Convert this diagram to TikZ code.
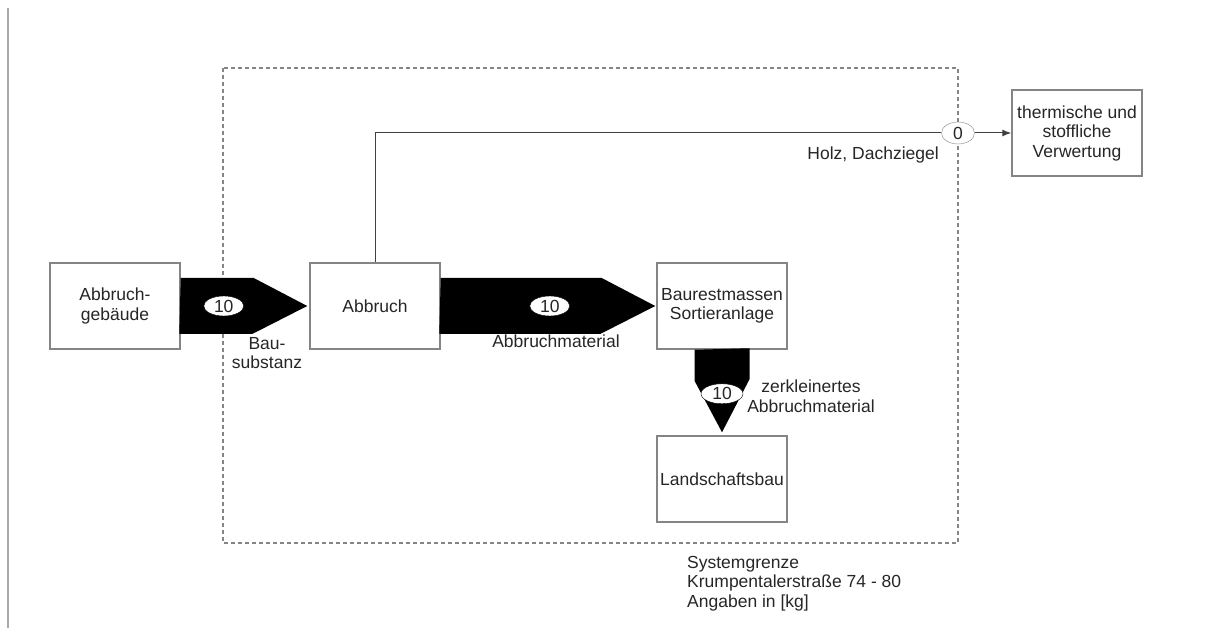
\documentclass[tikz,border=0pt]{standalone}
\usepackage{fontspec}
\setmainfont{Liberation Sans}
\usepackage{tikz}
\usetikzlibrary{arrows.meta, positioning, shapes.geometric, calc}
\definecolor{boxGrey}{HTML}{858585}
\definecolor{textGrey}{HTML}{262626}

\begin{document}
\begin{tikzpicture}[
  x=1pt, y=-1pt,
  every node/.style={text=textGrey, font=\fontsize{17.5}{19.5}\selectfont},
  box/.style={draw=boxGrey, line width=1.5pt, fill=white, align=center, minimum width=130pt, minimum height=86pt, inner sep=2pt},
  num/.style={ellipse, draw=black, fill=white, inner sep=0pt, minimum width=40pt, minimum height=20pt},
  lbl/.style={align=center, inner sep=0pt},
  flow/.style={fill=black},
  arr/.style={draw=black!75, line width=1pt},
  grenze/.style={draw=boxGrey, line width=1.3pt, dash pattern=on 4pt off 3pt}
]
\useasboundingbox (0,0) rectangle (1213,628);
\draw[boxGrey!70, line width=1.5pt] (8,8) -- (8,628);

% Systemgrenze
\draw[grenze] (223,68) rectangle (958,543);

\node[box] (geb) at (115,306) {Abbruch-\\geb\"aude};
\node[box, right=128.5pt of geb] (abbruch) {Abbruch};
\node[box, right=215.5pt of abbruch] (sort) {Baurestmassen\\Sortieranlage};
\node[box, below=85.5pt of sort] (land) {Landschaftsbau};
\node[box] (verwertung) at (1077,133) {thermische und\\stoffliche\\Verwertung};

% Massenstroeme
\fill[flow] ($(geb.east)+(0,-28)$) -- ++(73,0) -- ($(abbruch.west)+(-2,0)$) -- ++(-55,28) -- ++(-73,0) -- cycle;
\fill[flow] ($(abbruch.east)+(0,-28)$) -- ++(161,0) -- ($(sort.west)+(-1,0)$) -- ++(-55,28) -- ++(-161,0) -- cycle;
\fill[flow] ($(sort.south)+(-27.5,0)$) -- ++(0,31) -- ($(land.north)+(0,-3)$) -- ++(27.5,-53) -- ++(0,-31) -- cycle;

\node[num] (m1) at ($(geb.east)+(43,0)$) {10};
\node[num] (m2) at ($(abbruch.east)+(109,0)$) {10};
\node[num, minimum width=42pt] (m3) at ($(sort.south)+(0,44)$) {10};
\node[num, draw=boxGrey, minimum width=33pt, minimum height=22pt] (m0) at (958,133) {0};

\draw[arr] (abbruch.north) |- (m0.west);
\draw[arr, -{Latex[length=9pt, width=7pt]}] (m0.east) -- (verwertung.west);

% Beschriftungen
\node[lbl] (bau) at (267,353) {Bau-\\substanz};
\node[lbl] (mat) at (556,341) {Abbruchmaterial};
\node[lbl] (zerkl) at (811,396) {zerkleinertes\\Abbruchmaterial};
\node[lbl, anchor=east] (holz) at (939,155) {Holz, Dachziegel};
\node[lbl, align=left, anchor=north west] (info) at (687,556) {Systemgrenze\\Krumpentalerstra\ss e 74 - 80\\Angaben in [kg]};
\end{tikzpicture}
\end{document}
